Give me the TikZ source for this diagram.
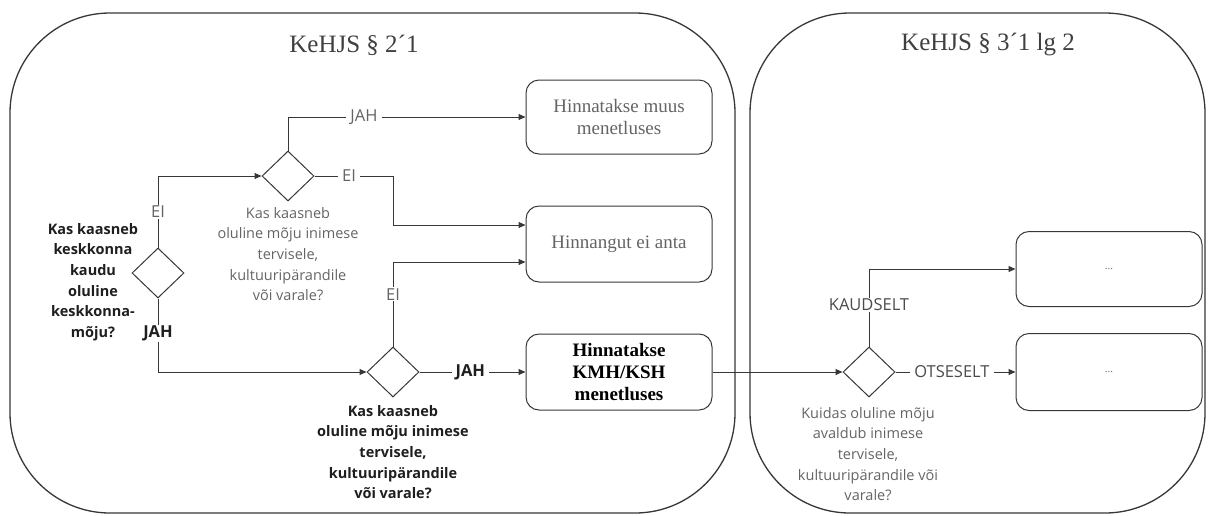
\documentclass[tikz,border=0pt]{standalone}
\usepackage{fontspec}
\setmainfont{Liberation Serif}
\newfontfamily\labelfont{Open Sans}
\usetikzlibrary{positioning, arrows.meta, shapes.geometric, calc}
\definecolor{lineclr}{RGB}{55,55,55}
\definecolor{txtgray}{RGB}{100,100,100}
\definecolor{txtdark}{RGB}{30,30,30}
\tikzset{
    frame/.style={draw=lineclr, line width=1.3pt, rounded corners=100pt},
    decision/.style={diamond, draw=lineclr, line width=1pt, minimum width=52pt, minimum height=50pt, inner sep=0pt},
    outbox/.style={rectangle, rounded corners=13pt, draw=lineclr, line width=1pt, minimum width=186pt, minimum height=76pt, align=center, font=\fontsize{19}{22}\selectfont, text=txtgray},
    qtext/.style={align=center, font=\labelfont\fontsize{14.5}{20.7}\selectfont, text=txtgray},
    qbold/.style={align=center, font=\labelfont\bfseries\fontsize{14.5}{20.7}\selectfont, text=txtdark},
    lbl/.style={fill=white, inner xsep=4pt, inner ysep=1pt, font=\labelfont\fontsize{16.5}{18}\selectfont, text=txtgray},
    lblbold/.style={lbl, font=\labelfont\bfseries\fontsize{16.5}{18}\selectfont, text=txtdark},
    arr/.style={-{Triangle[length=7pt, width=6pt]}, line width=1pt, lineclr},
    titlefont/.style={font=\fontsize{25}{28}\selectfont, text=txtdark!85}
}
\begin{document}
\begin{tikzpicture}[x=1pt, y=-1pt]
    \useasboundingbox (0,0) rectangle (1209,515);

    % frames
    \draw[frame] (10,13) rectangle (735,513);
    \draw[frame] (750,13) rectangle (1205,513);
    \node[titlefont] (titleL) at (354,45) {KeHJS § 2´1};
    \node[titlefont] (titleR) at (988,45) {KeHJS § 3´1 lg 2};

    % decisions
    \node[decision] (q1) at (158,273) {};
    \node[decision] (q2) at (288,176) {};
    \node[decision] (q3) at (393,372) {};
    \node[decision] (q4) at (869,372) {};

    \node[qbold] (q1txt) at (93,282) {Kas kaasneb\\keskkonna\\kaudu\\oluline\\keskkonna-\\mõju?};
    \node[qtext] (q2txt) at (288,254) {Kas kaasneb\\oluline mõju inimese\\tervisele,\\kultuuripärandile\\või varale?};
    \node[qbold] (q3txt) at (393,452) {Kas kaasneb\\oluline mõju inimese\\tervisele,\\kultuuripärandile\\või varale?};
    \node[qtext] (q4txt) at (868,454) {Kuidas oluline mõju\\avaldub inimese\\tervisele,\\kultuuripärandile või\\varale?};

    % outcomes
    \node[outbox, minimum height=74pt] (b1) at (619,117) {Hinnatakse muus\\menetluses};
    \node[outbox] (b2) at (619,244) {Hinnangut ei anta};
    \node[outbox, font=\bfseries\fontsize{19}{22}\selectfont, text=black] (b3) at (619,372) {Hinnatakse\\KMH/KSH\\menetluses};
    \node[outbox, minimum height=75pt, font=\fontsize{11}{13}\selectfont] (b4) at (1109,269) {...};
    \node[outbox, minimum height=77pt, font=\fontsize{11}{13}\selectfont] (b5) at (1109,372) {...};

    \coordinate (b2in1) at ([yshift=19pt]b2.west);
    \coordinate (b2in2) at ([yshift=-18pt]b2.west);

    % connectors
    \draw[arr] (q1.north) |- node[lbl, pos=0.25]{EI} (q2.west);
    \draw[arr] (q1.south) |- node[lblbold, pos=0.24]{JAH} (q3.west);
    \draw[arr] (q2.north) |- node[lbl, pos=0.66]{JAH} (b1.west);
    \draw[arr] (q2.east) -- node[lbl, pos=0.44]{EI} (q2.east -| q3.north) |- (b2in1);
    \draw[arr] (q3.north) |- node[lbl, pos=0.31]{EI} (b2in2);
    \draw[arr] (q3.east) -- node[lblbold, pos=0.48]{JAH} (b3.west);
    \draw[arr] (b3.east) -- (q4.west);
    \draw[arr] (q4.north) |- node[lbl, pos=0.27, text=txtdark!80]{KAUDSELT} (b4.west);
    \draw[arr] (q4.east) -- node[lbl, pos=0.47, text=txtdark!80]{OTSESELT} (b5.west);
\end{tikzpicture}
\end{document}
